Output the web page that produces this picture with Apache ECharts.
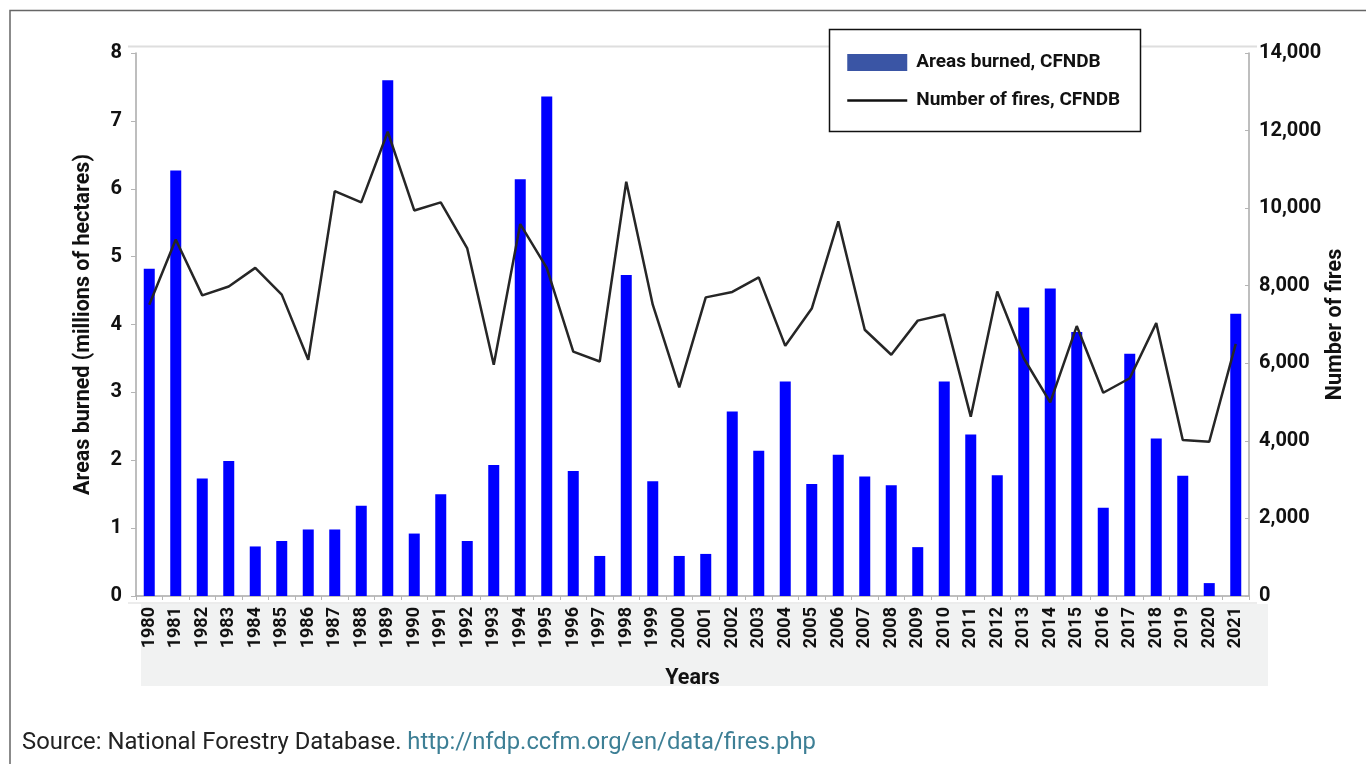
<!DOCTYPE html>
<html>
<head>
<meta charset="utf-8">
<script src="https://cdn.jsdelivr.net/npm/echarts@6/dist/echarts.min.js"></script>
<style>
html,body{margin:0;padding:0;background:#fff;}
#chart{width:1366px;height:764px;}
</style>
</head>
<body>
<div id="chart"></div>
<script>
const years = ['1980','1981','1982','1983','1984','1985','1986','1987','1988','1989','1990','1991','1992','1993','1994','1995','1996','1997','1998','1999','2000','2001','2002','2003','2004','2005','2006','2007','2008','2009','2010','2011','2012','2013','2014','2015','2016','2017','2018','2019','2020','2021'];
const areasBurned = [4.82,6.27,1.73,1.99,0.73,0.81,0.98,0.98,1.33,7.60,0.92,1.50,0.81,1.93,6.14,7.36,1.84,0.59,4.73,1.69,0.59,0.62,2.72,2.14,3.16,1.65,2.08,1.76,1.63,0.72,3.16,2.38,1.78,4.25,4.53,3.89,1.30,3.57,2.32,1.77,0.19,4.16];
const numberOfFires = [7510,9190,7750,7980,8460,7770,6090,10440,10150,11970,9940,10150,8960,5960,9590,8460,6300,6045,10680,7510,5380,7700,7840,8215,6450,7410,9660,6864,6220,7100,7260,4624,7853,6130,4990,6960,5240,5614,7035,4022,3978,6500];
const leftTicks = {min:0, max:8, interval:1};
const rightTicks = {min:0, max:14000, interval:2000};

const FONT = 'Roboto, sans-serif';
const chart = echarts.init(document.getElementById('chart'), null, {renderer:'canvas'});
const axisLineStyle = {color:'#a9a9a9', width:1.5};
const fmt = v => String(v).replace(/\B(?=(\d{3})+(?!\d))/g, ',');

chart.setOption({
  animation:false,
  backgroundColor:'#fff',
  grid:{left:136, right:117, top:53, bottom:168},
  legend:{
    left:846, top:53, padding:0, orient:'vertical', itemWidth:60, itemHeight:17, itemGap:19,
    textStyle:{fontFamily:FONT, fontWeight:'bold', fontSize:19, color:'#111', padding:[0,0,0,4]},
    data:[
      {name:'Areas burned, CFNDB', icon:'rect', itemStyle:{color:'#3a55a5'}},
      {name:'Number of fires, CFNDB', itemStyle:{opacity:0}, lineStyle:{color:'#111', width:2.5}}
    ],
    z:20
  },
  xAxis:{
    type:'category', data:years, boundaryGap:true,
    name:'Years', nameLocation:'middle', nameGap:72,
    nameTextStyle:{fontFamily:FONT, fontWeight:'bold', fontSize:21.5, color:'#111'},
    axisLine:{lineStyle:axisLineStyle},
    axisTick:{show:true, length:4, lineStyle:{color:'#b5b5b5'}},
    axisLabel:{rotate:90, margin:11, fontFamily:FONT, fontWeight:'bold', fontSize:18, color:'#111', interval:0},
    splitLine:{show:false}
  },
  yAxis:[
    {
      type:'value', position:'left', min:leftTicks.min, max:leftTicks.max, interval:leftTicks.interval,
      name:'Areas burned (millions of hectares)', nameLocation:'middle', nameGap:41, nameRotate:90,
      nameTextStyle:{fontFamily:FONT, fontWeight:'bold', fontSize:21.5, color:'#111'},
      axisLine:{show:true, lineStyle:axisLineStyle},
      axisTick:{show:true, length:5, lineStyle:{color:'#b5b5b5'}},
      axisLabel:{margin:14, fontFamily:FONT, fontWeight:'bold', fontSize:20, color:'#111'},
      splitLine:{show:false}
    },
    {
      type:'value', position:'right', min:rightTicks.min, max:rightTicks.max, interval:rightTicks.interval,
      name:'Number of fires', nameLocation:'middle', nameGap:76, nameRotate:90, nameMoveOverlap:false,
      nameTextStyle:{fontFamily:FONT, fontWeight:'bold', fontSize:21.5, color:'#111'},
      axisLine:{show:true, lineStyle:axisLineStyle},
      axisTick:{show:true, inside:true, length:4, lineStyle:{color:'#b5b5b5'}},
      axisLabel:{margin:10, fontFamily:FONT, fontWeight:'bold', fontSize:20, color:'#111', formatter:fmt},
      splitLine:{show:false}
    }
  ],
  series:[
    {name:'Areas burned, CFNDB', type:'bar', yAxisIndex:0, data:areasBurned, barWidth:11,
     itemStyle:{color:'#0000ff'}, z:2},
    {name:'Number of fires, CFNDB', type:'line', yAxisIndex:1, data:numberOfFires,
     symbol:'none', lineStyle:{color:'#262626', width:2.5}, itemStyle:{color:'#111'}, z:3}
  ],
  graphic:[
    {type:'polyline', z:-10, shape:{points:[[10,764],[10,10.5],[1366,10.5]]}, style:{stroke:'#666', lineWidth:1.5, fill:null}},
    {type:'line', z:-10, shape:{x1:128, y1:46.5, x2:1257, y2:46.5}, style:{stroke:'#dedede', lineWidth:2}},
    {type:'line', z:-10, shape:{x1:128, y1:603, x2:1257, y2:603}, style:{stroke:'#e6e6e6', lineWidth:1.5}},
    {type:'rect', z:-11, shape:{x:141, y:604, width:1127, height:82}, style:{fill:'#f1f2f2'}},
    {type:'rect', z:10, shape:{x:829.5, y:29.5, width:311, height:102}, style:{fill:'#fff', stroke:'#111', lineWidth:1.5}},
    {type:'text', z:10, left:22, top:731, style:{
      text:'{a|Source: National Forestry Database. }{b|http://nfdp.ccfm.org/en/data/fires.php}',
      rich:{
        a:{fontFamily:'Roboto, sans-serif', fontSize:23.8, fill:'#222'},
        b:{fontFamily:'Roboto, sans-serif', fontSize:23.8, fill:'#3d7f95'}
      }
    }}
  ]
});
</script>
</body>
</html>
